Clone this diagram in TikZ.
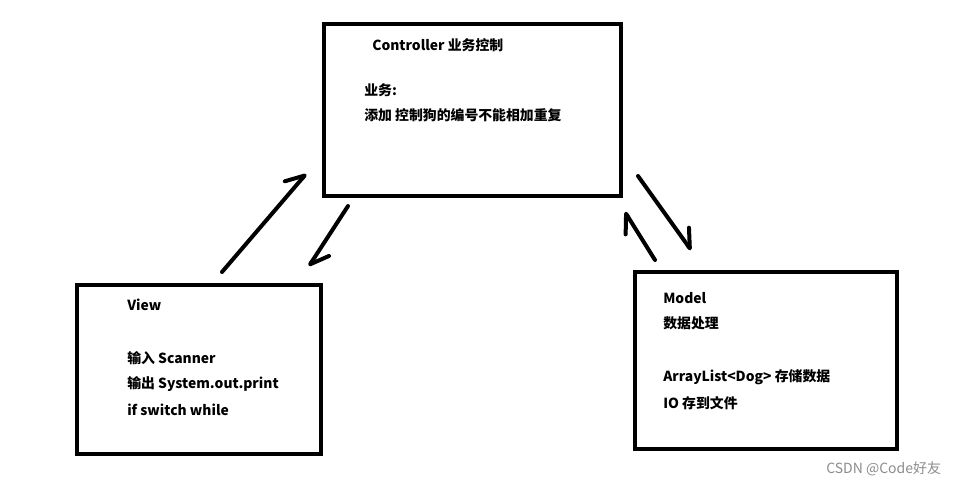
\documentclass[tikz,border=0pt]{standalone}
\usepackage{fontspec}
\setmainfont{Noto Sans CJK SC}
\usetikzlibrary{arrows.meta}

\begin{document}
\begin{tikzpicture}[
  x=0.75pt, y=-0.75pt,
  font=\fontsize{10.4}{12}\selectfont\bfseries,
  >={Straight Barb[harpoon, length=13pt, width=17pt, round]},
  mvcbox/.style={draw, line width=3pt, inner sep=0pt},
  txt/.style={anchor=west, inner sep=0pt},
  arr/.style={->, line width=3pt, line cap=round}
]
  \useasboundingbox (0,0) rectangle (970,485);

  % the three boxes
  \node[mvcbox, minimum width=222.75pt, minimum height=129pt] (ctrl) at (472.5,110) {};
  \node[mvcbox, minimum width=183pt, minimum height=126.75pt] (view) at (199,369.5) {};
  \node[mvcbox, minimum width=196.5pt, minimum height=132.75pt] (model) at (766,360.5) {};

  % texts
  \node[txt] (ctrltitle) at (372,45) {Controller 业务控制};
  \node[txt] (ctrlbiz) at (364,90) {业务:};
  \node[txt] (ctrladd) at (364,115) {添加 控制狗的编号不能相加重复};

  \node[txt] (viewtitle) at (127,305) {View};
  \node[txt] (viewin) at (127,358) {输入 Scanner};
  \node[txt] (viewout) at (127,384) {输出 System.out.print};
  \node[txt] (viewctl) at (127,410) {if switch while};

  \node[txt] (modeltitle) at (663,298) {Model};
  \node[txt] (modelproc) at (663,323) {数据处理};
  \node[txt] (modellist) at (663,377) {ArrayList<Dog> 存储数据};
  \node[txt] (modelio) at (663,403) {IO 存到文件};

  \node[txt, font=\fontsize{10.5}{12}\selectfont, text=black!45] (mark) at (826,469) {CSDN @Code好友};

  % arrow ends
  \coordinate (v2c-s) at (222,272);
  \coordinate (v2c-t) at (306,174);
  \coordinate (c2v-s) at (348,206);
  \coordinate (c2v-t) at (309,266);
  \coordinate (c2m-s) at (638,176);
  \coordinate (c2m-t) at (691,250);
  \coordinate (m2c-s) at (655,260);
  \coordinate (m2c-t) at (625,212);

  \draw[arr] (v2c-s) -- (v2c-t);
  \draw[arr] (c2v-s) -- (c2v-t);
  \draw[arr] (c2m-s) -- (c2m-t);
  \draw[arr] (m2c-s) -- (m2c-t);
\end{tikzpicture}
\end{document}
